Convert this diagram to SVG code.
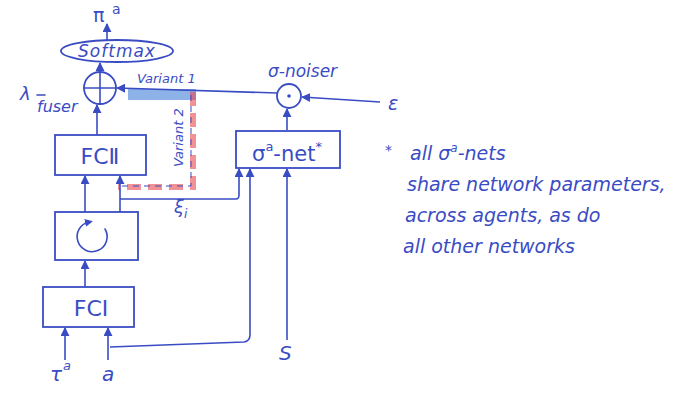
<svg xmlns="http://www.w3.org/2000/svg" width="682" height="400" viewBox="0 0 682 400">
<defs>
<marker id="ah" viewBox="0 0 10 10" refX="9" refY="5" markerWidth="9" markerHeight="9" markerUnits="userSpaceOnUse" orient="auto">
<path d="M0,0 L10,5 L0,10 z" fill="#3a4cc4"/>
</marker>
<marker id="ahs" viewBox="0 0 10 10" refX="5" refY="5" markerWidth="8" markerHeight="8" markerUnits="userSpaceOnUse" orient="auto">
<path d="M0,0 L10,5 L0,10 z" fill="#3a4cc4"/>
</marker>
</defs>
<style>
.ink{stroke:#3a4cc4;stroke-width:1.6;fill:none;stroke-linecap:round;stroke-linejoin:round}
.box{stroke:#3a4cc4;stroke-width:1.8;fill:#ffffff}
.t{font-family:"DejaVu Sans","Liberation Sans",sans-serif;fill:#3a4cc4}
.h{font-family:"DejaVu Sans","Liberation Sans",sans-serif;font-style:italic;fill:#3a4cc4}
.arr{stroke:#3a4cc4;stroke-width:1.6;fill:none;marker-end:url(#ah)}
</style>
<rect width="682" height="400" fill="#ffffff"/>

<g id="highlights">
<rect x="128" y="89" width="68" height="11" fill="#3f7fd8" opacity="0.6"/>
<path d="M193,92 V187 H118" stroke="#e84a50" stroke-width="6" stroke-dasharray="14,7" fill="none" opacity="0.6"/>
<path d="M191,95 V186 H118" stroke="#3a4cc4" stroke-width="1" stroke-dasharray="6,5" fill="none"/>
</g>

<g id="connectors">
<line class="arr" x1="107" y1="40" x2="107" y2="24"/>
<line class="arr" x1="100" y1="72" x2="100" y2="63"/>
<line class="arr" x1="97" y1="135" x2="97" y2="105"/>
<line class="arr" x1="277" y1="93" x2="117" y2="88"/>
<line class="arr" x1="380" y1="102" x2="302" y2="97"/>
<line class="arr" x1="287" y1="130" x2="287" y2="109"/>
<line class="arr" x1="85" y1="212" x2="85" y2="176"/>
<line class="arr" x1="120" y1="212" x2="120" y2="176"/>
<path class="arr" d="M120,199 H236 Q239,199 239,195 V169"/>
<line class="arr" x1="85" y1="287" x2="85" y2="261"/>
<line class="arr" x1="65" y1="360" x2="65" y2="328"/>
<line class="arr" x1="108" y1="360" x2="108" y2="328"/>
<path class="arr" d="M110,347 L244,342 Q250,341 250,335 V169"/>
<line class="arr" x1="287" y1="340" x2="287" y2="169"/>
</g>

<g id="pi">
<text class="t" x="93" y="22" font-size="19">π</text>
<text class="t" x="112" y="14" font-size="14">a</text>
</g>

<g id="softmax">
<ellipse class="box" cx="117" cy="51" rx="56" ry="11"/>
<text class="h" x="117" y="57" font-size="17" text-anchor="middle" letter-spacing="1">Softmax</text>
</g>

<g id="fuser">
<circle class="box" cx="100" cy="88" r="16"/>
<line class="ink" x1="84" y1="88" x2="116" y2="88"/>
<line class="ink" x1="100" y1="72" x2="100" y2="104"/>
<text class="h" x="20" y="100" font-size="18">λ</text>
<line class="ink" x1="37" y1="95" x2="45" y2="95"/>
<text class="h" x="37" y="112" font-size="16">fuser</text>
</g>

<g id="variant-labels">
<text class="h" x="137" y="83" font-size="13">Variant 1</text>
<text class="h" x="0" y="0" font-size="13" transform="translate(183,167) rotate(-90)">Variant 2</text>
</g>

<g id="noiser">
<circle class="box" cx="289" cy="96" r="12"/>
<circle cx="289" cy="96" r="1.8" fill="#3a4cc4"/>
<text class="h" x="268" y="77" font-size="17">σ-noiser</text>
<text class="h" x="388" y="110" font-size="19">ε</text>
</g>

<g id="sigma-net">
<rect class="box" x="236" y="131" width="104" height="37"/>
<text class="t" x="287" y="161" font-size="21" text-anchor="middle">σ<tspan dy="-10" font-size="13">a</tspan><tspan dy="10">-net</tspan><tspan dy="-10" font-size="13">*</tspan></text>
</g>

<g id="note">
<text class="h" x="385" y="155" font-size="14">*</text>
<text class="h" x="410" y="160" font-size="19">all σ<tspan dy="-8" font-size="12">a</tspan><tspan dy="8">-nets</tspan></text>
<text class="h" x="407" y="191" font-size="19">share network parameters,</text>
<text class="h" x="405" y="222" font-size="19">across agents, as do</text>
<text class="h" x="403" y="253" font-size="19">all other networks</text>
</g>

<g id="fc2">
<rect class="box" x="55" y="135" width="91" height="40"/>
<text class="t" x="100" y="164" font-size="22" text-anchor="middle">FCⅡ</text>
</g>

<g id="recurrent">
<rect class="box" x="55" y="212" width="83" height="48"/>
<path class="ink" d="M105,229 A15,15 0 1 1 89,222" marker-end="url(#ahs)"/>
<text class="h" x="174" y="213" font-size="18">ξ<tspan dy="5" font-size="12">i</tspan></text>
</g>

<g id="fc1">
<rect class="box" x="43" y="287" width="91" height="40"/>
<text class="t" x="91" y="316" font-size="22" text-anchor="middle">FCⅠ</text>
</g>

<g id="inputs">
<text class="h" x="50" y="381" font-size="20">τ</text>
<text class="h" x="63" y="370" font-size="13">a</text>
<text class="h" x="102" y="381" font-size="20">a</text>
<text class="h" x="279" y="360" font-size="20">S</text>
</g>
</svg>
